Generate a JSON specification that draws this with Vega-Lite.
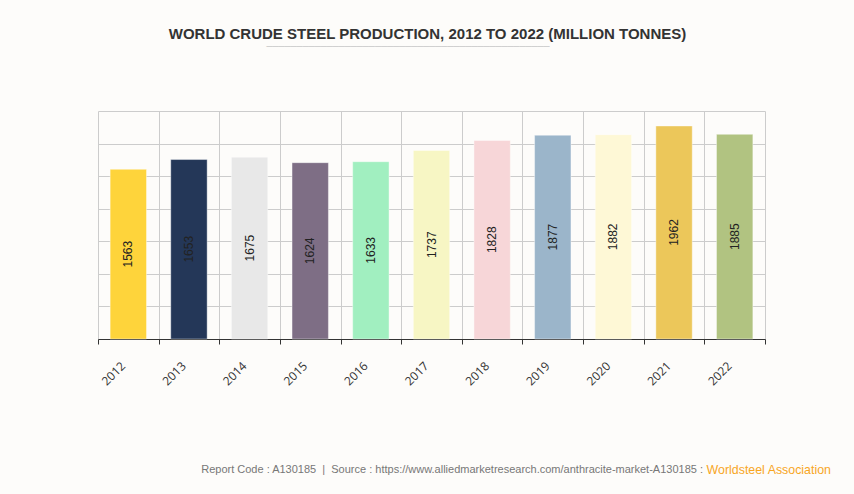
{
  "$schema": "https://vega.github.io/schema/vega-lite/v6.json",
  "width": 667,
  "height": 228,
  "autosize": {"type": "none"},
  "padding": {"left": 98, "top": 111, "right": 89, "bottom": 155},
  "background": "#fdfcfa",
  "title": {
    "text": "WORLD CRUDE STEEL PRODUCTION, 2012 TO 2022 (MILLION TONNES)",
    "anchor": "middle",
    "frame": "group",
    "dx": -4,
    "offset": 0,
    "font": "Liberation Sans",
    "fontSize": 15,
    "fontWeight": "bold",
    "color": "#333333"
  },
  "config": {
    "view": {"stroke": null},
    "axis": {"labelFont": "Open Sans", "titleFont": "Open Sans"}
  },
  "layer": [
    {
      "data": {
        "values": [
          {"year": "2012", "value": 1563},
          {"year": "2013", "value": 1653},
          {"year": "2014", "value": 1675},
          {"year": "2015", "value": 1624},
          {"year": "2016", "value": 1633},
          {"year": "2017", "value": 1737},
          {"year": "2018", "value": 1828},
          {"year": "2019", "value": 1877},
          {"year": "2020", "value": 1882},
          {"year": "2021", "value": 1962},
          {"year": "2022", "value": 1885}
        ]
      },
      "encoding": {
        "x": {
          "field": "year",
          "type": "nominal",
          "scale": {"paddingInner": 0, "paddingOuter": 0},
          "axis": {
            "title": null,
            "labelAngle": -45,
            "labelFontSize": 12,
            "labelColor": "#333333",
            "labelPadding": 16,
            "labelOffset": -9,
            "tickBand": "extent",
            "grid": true,
            "gridColor": "#cccccc",
            "domainColor": "#333333",
            "tickColor": "#333333",
            "tickSize": 5
          }
        },
        "y": {
          "field": "value",
          "type": "quantitative",
          "scale": {"domain": [0, 2100], "nice": false},
          "axis": {
            "title": null,
            "labels": false,
            "ticks": false,
            "domain": false,
            "values": [0, 300, 600, 900, 1200, 1500, 1800, 2100],
            "gridColor": "#cccccc"
          }
        }
      },
      "layer": [
        {
          "mark": {"type": "bar", "width": {"band": 0.6}, "stroke": "#ffffff", "strokeOpacity": 0.4, "strokeWidth": 1},
          "encoding": {
            "color": {
              "field": "year",
              "type": "nominal",
              "legend": null,
              "scale": {
                "domain": ["2012", "2013", "2014", "2015", "2016", "2017", "2018", "2019", "2020", "2021", "2022"],
                "range": ["#fed43b", "#243758", "#e8e8e8", "#7e6e85", "#a1efc0", "#f7f6c4", "#f7d6d8", "#9bb5ca", "#fef8d6", "#ecc75a", "#b1c381"]
              }
            }
          }
        },
        {
          "transform": [{"calculate": "datum.value / 2", "as": "mid"}],
          "mark": {"type": "text", "angle": 270, "font": "Liberation Sans", "fontSize": 12, "color": "#222222", "align": "center", "baseline": "middle"},
          "encoding": {
            "y": {"field": "mid", "type": "quantitative"},
            "text": {"field": "value", "type": "quantitative", "format": "d"}
          }
        }
      ]
    },
    {
      "data": {"values": [{"t": "───────────────────────────────────────────────"}]},
      "mark": {"type": "text", "align": "center", "baseline": "middle", "font": "DejaVu Sans", "fontSize": 10, "color": "#cccccc", "x": 310, "y": -64},
      "encoding": {"text": {"field": "t", "type": "nominal"}}
    },
    {
      "data": {"values": [{"t": "Report Code : A130185\u00a0\u00a0|\u00a0\u00a0Source : https://www.alliedmarketresearch.com/anthracite-market-A130185 :"}]},
      "mark": {"type": "text", "align": "right", "baseline": "middle", "font": "Liberation Sans", "fontSize": 11, "color": "#777777", "x": {"expr": "width - 62"}, "y": {"expr": "height + 131"}},
      "encoding": {"text": {"field": "t", "type": "nominal"}}
    },
    {
      "data": {"values": [{"t": "Worldsteel Association"}]},
      "mark": {"type": "text", "align": "right", "baseline": "middle", "font": "Liberation Sans", "fontSize": 12.4, "color": "#f8a61f", "x": {"expr": "width + 66"}, "y": {"expr": "height + 131"}},
      "encoding": {"text": {"field": "t", "type": "nominal"}}
    }
  ]
}
